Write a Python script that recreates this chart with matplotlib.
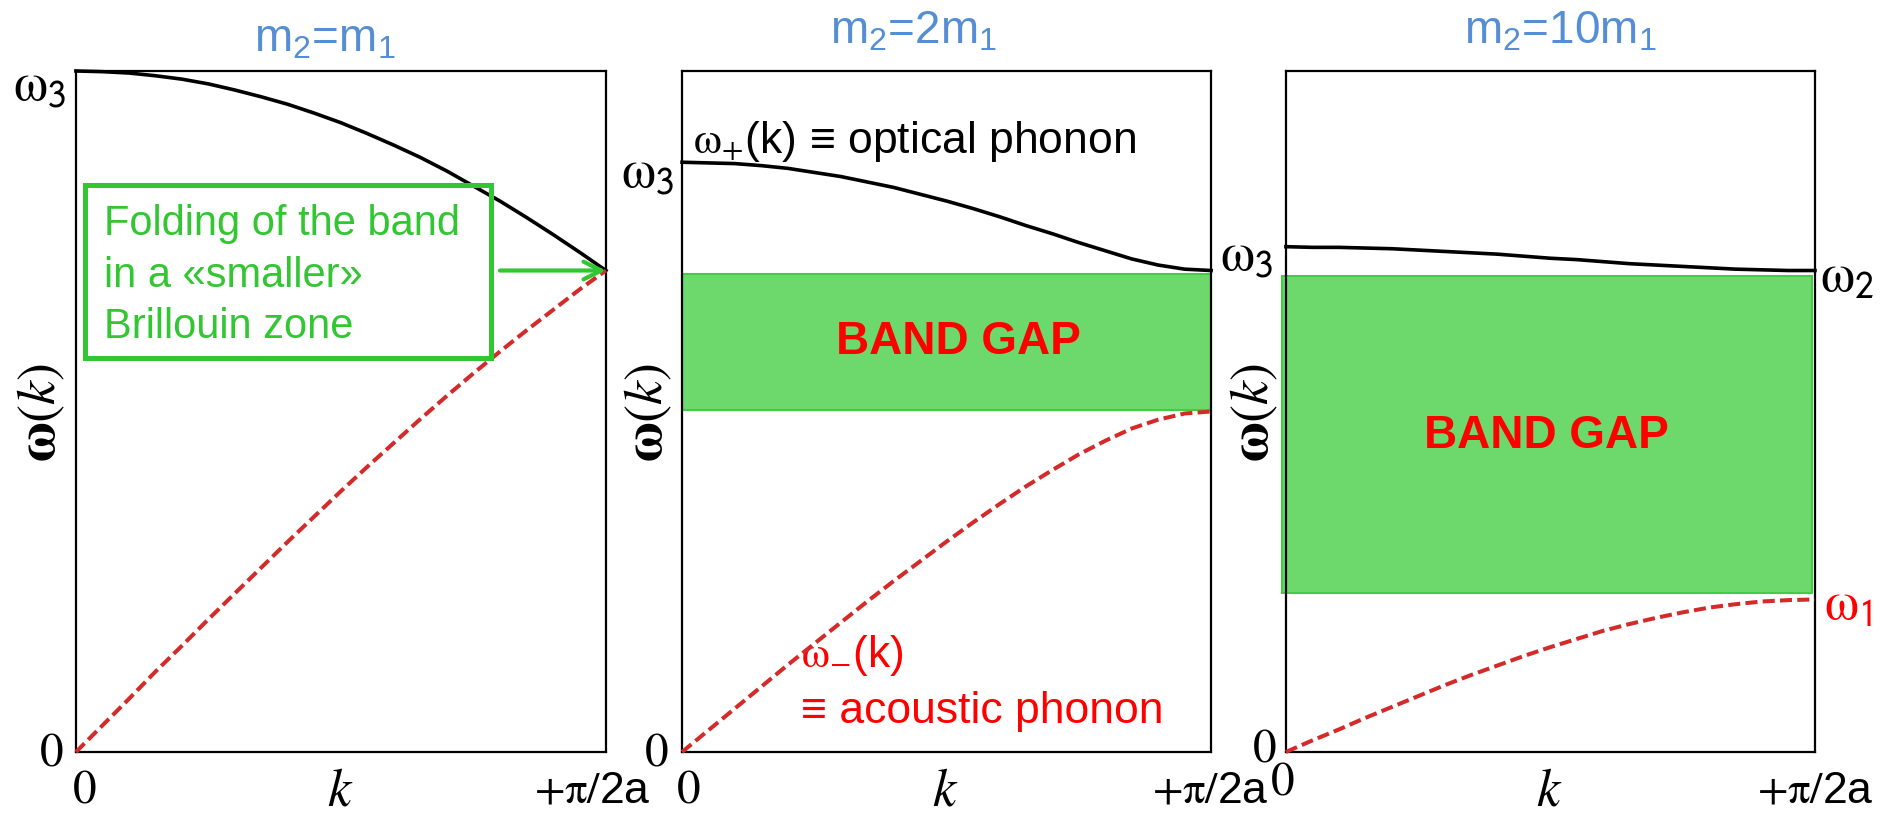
import matplotlib
matplotlib.use('Agg')
import matplotlib.pyplot as plt
from matplotlib.patches import Rectangle

plt.rcParams['font.family'] = ['Liberation Sans', 'DejaVu Sans']
plt.rcParams['mathtext.fontset'] = 'custom'
plt.rcParams['mathtext.rm'] = 'Liberation Sans'
plt.rcParams['mathtext.it'] = 'Liberation Sans:italic'
plt.rcParams['mathtext.bf'] = 'Liberation Sans:bold'

# k as a fraction of the zone edge +pi/2a, omega in units of omega_3 (m2 = m1)
k = [0.00, 0.05, 0.10, 0.15, 0.20, 0.25, 0.30, 0.35, 0.40, 0.45, 0.50,
     0.55, 0.60, 0.65, 0.70, 0.75, 0.80, 0.85, 0.90, 0.95, 1.00]

opt_m1 = [1.000, 0.999, 0.997, 0.993, 0.988, 0.981, 0.972, 0.962, 0.951, 0.938, 0.924,
          0.908, 0.891, 0.873, 0.853, 0.831, 0.809, 0.785, 0.760, 0.734, 0.707]
ac_m1 = [0.000, 0.039, 0.078, 0.118, 0.156, 0.195, 0.233, 0.271, 0.309, 0.346, 0.383,
         0.419, 0.454, 0.489, 0.523, 0.556, 0.588, 0.619, 0.649, 0.679, 0.707]

opt_2m1 = [0.866, 0.865, 0.864, 0.861, 0.857, 0.851, 0.845, 0.837, 0.829, 0.819, 0.809,
           0.798, 0.786, 0.773, 0.761, 0.748, 0.736, 0.724, 0.715, 0.709, 0.707]
ac_2m1 = [0.000, 0.032, 0.064, 0.096, 0.128, 0.159, 0.190, 0.221, 0.251, 0.280, 0.309,
          0.337, 0.364, 0.390, 0.414, 0.437, 0.457, 0.475, 0.488, 0.497, 0.500]

opt_10m1 = [0.742, 0.741, 0.741, 0.740, 0.739, 0.737, 0.735, 0.733, 0.731, 0.728, 0.725,
            0.723, 0.720, 0.717, 0.715, 0.713, 0.711, 0.709, 0.708, 0.707, 0.707]
ac_10m1 = [0.000, 0.017, 0.033, 0.050, 0.066, 0.082, 0.098, 0.113, 0.127, 0.141, 0.154,
           0.166, 0.178, 0.188, 0.197, 0.205, 0.212, 0.217, 0.221, 0.223, 0.224]

titles = [r'm$_2$=m$_1$', r'm$_2$=2m$_1$', r'm$_2$=10m$_1$']
gap_2m1 = (0.502, 0.702)
gap_10m1 = (0.233, 0.699)

BLUE = '#558ed5'
GREEN = '#33c633'
GAP_FACE = '#6dd96d'
GAP_EDGE = '#45cc45'
DASH_RED = '#d42a2a'
RED = '#ff0000'

fig = plt.figure(figsize=(18.8, 8.14), dpi=100)
lefts = [0.0404, 0.3628, 0.6840]
widths = [0.2819, 0.2814, 0.2814]
axes = [fig.add_axes([l, 0.0762, w, 0.8366]) for l, w in zip(lefts, widths)]

curves = [(opt_m1, ac_m1), (opt_2m1, ac_2m1), (opt_10m1, ac_10m1)]

for ax, (opt, ac) in zip(axes, curves):
    ax.set_xlim(0, 1)
    ax.set_ylim(0, 1)
    ax.set_xticks([])
    ax.set_yticks([])
    for sp in ax.spines.values():
        sp.set_linewidth(1.6)
        sp.set_zorder(3)
    ax.plot(k, opt, color='black', lw=2.6, clip_on=False, zorder=4)
    ax.plot(k, ac, color=DASH_RED, lw=2.9, ls=(0, (3.0, 1.3)), clip_on=False, zorder=4)

serif = dict(math_fontfamily='stix')

# per-panel axis annotations (axes fractions)
title_pos = [(0.470, 1.028), (0.437, 1.041), (0.518, 1.041)]
w3_pos = [(-0.019, 0.977), (-0.015, 0.850), (-0.024, 0.728)]
ylab_x = [-0.066, -0.064, -0.059]
yzero_pos = [(-0.024, -0.002), (-0.025, -0.002), (-0.018, 0.003)]
xzero_pos = [(0.015, -0.074), (0.011, -0.074), (-0.006, -0.062)]
pi_x = [0.975, 0.998, 1.0]

for i, ax in enumerate(axes):
    ax.text(*title_pos[i], titles[i], transform=ax.transAxes, ha='center', va='baseline',
            fontsize=33, color=BLUE)
    ax.text(*w3_pos[i], r'$\mathrm{\omega}_{\mathsf{3}}$', transform=ax.transAxes,
            ha='right', va='center', fontsize=39, **serif)
    ax.text(ylab_x[i], 0.499, r'$\mathbf{\omega}(k)$', transform=ax.transAxes, rotation=90,
            ha='center', va='center', fontsize=39, **serif)
    ax.text(*yzero_pos[i], r'$0$', transform=ax.transAxes, ha='right', va='center',
            fontsize=34, **serif)
    ax.text(*xzero_pos[i], r'$0$', transform=ax.transAxes, ha='center', va='baseline',
            fontsize=34, **serif)
    ax.text(0.498, -0.078, r'$k$', transform=ax.transAxes, ha='center', va='baseline',
            fontsize=38, **serif)
    ax.text(pi_x[i], -0.074, r'$+\mathrm{\pi}/$2a', transform=ax.transAxes, ha='center',
            va='baseline', fontsize=32, **serif)

# panel 1: folding note
ax = axes[0]
ax.add_patch(Rectangle((0.018, 0.579), 0.766, 0.253, transform=ax.transAxes, fill=False,
                       edgecolor=GREEN, lw=3.6, clip_on=False, zorder=5))
for txt, yb in zip(['Folding of the band', 'in a «smaller»', 'Brillouin zone'],
                   [0.759, 0.683, 0.608]):
    ax.text(0.053, yb, txt, transform=ax.transAxes, ha='left', va='baseline',
            fontsize=30, color=GREEN)
ax.annotate('', xy=(k[-1], opt_m1[-1]), xytext=(0.80, opt_m1[-1]),
            arrowprops=dict(arrowstyle='->', color=GREEN, lw=3, mutation_scale=32,
                            shrinkA=0, shrinkB=0), zorder=5)

# panel 2: gap and branch names
ax = axes[1]
ax.axhspan(gap_2m1[0], gap_2m1[1], xmin=0, xmax=1, facecolor=GAP_FACE, edgecolor=GAP_EDGE,
           lw=1.5, zorder=2)
ax.text(0.522, sum(gap_2m1) / 2, 'BAND GAP', ha='center', va='center', fontsize=33,
        fontweight='bold', color=RED, zorder=6)
ax.text(0.021, 0.880, r'$\mathrm{\omega}_{+}$(k) ≡ optical phonon', transform=ax.transAxes,
        ha='left', va='baseline', fontsize=32, **serif)
ax.text(0.225, 0.125, r'$\mathrm{\omega}_{-}$(k)', transform=ax.transAxes,
        ha='left', va='baseline', fontsize=32, color=RED, **serif)
ax.text(0.225, 0.043, '≡ acoustic phonon', transform=ax.transAxes,
        ha='left', va='baseline', fontsize=32, color=RED)

# panel 3: wide gap, edge frequencies
ax = axes[2]
ax.axhspan(gap_10m1[0], gap_10m1[1], xmin=-0.008, xmax=0.994, facecolor=GAP_FACE,
           edgecolor=GAP_EDGE, lw=1.5, zorder=2, clip_on=False)
ax.text(0.493, 0.464, 'BAND GAP', transform=ax.transAxes, ha='center', va='center',
        fontsize=33, fontweight='bold', color=RED, zorder=6)
ax.text(1.009, opt_10m1[-1] - 0.011, r'$\mathrm{\omega}_{\mathsf{2}}$', transform=ax.transAxes,
        ha='left', va='center', fontsize=39, **serif)
ax.text(1.017, ac_10m1[-1] - 0.010, r'$\mathrm{\omega}_{\mathsf{1}}$', transform=ax.transAxes,
        ha='left', va='center', fontsize=39, color=RED, **serif)

fig.savefig('out.png', dpi=100)
